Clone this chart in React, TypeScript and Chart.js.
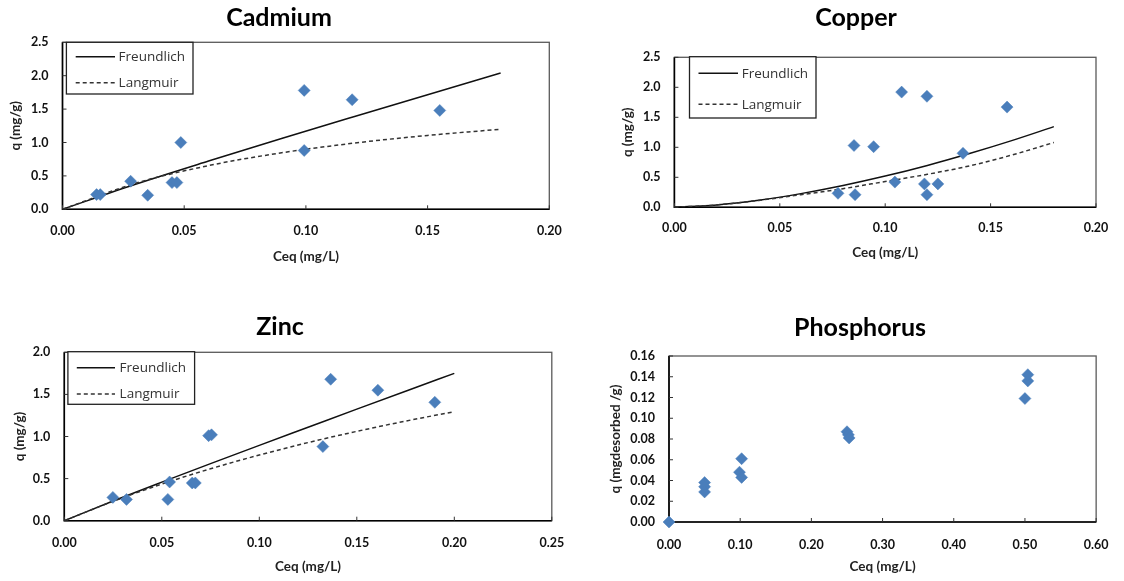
import React, { useEffect, useRef } from "react";
import { Chart, registerables } from "chart.js";

Chart.register(...registerables);

// ---- Measured adsorption data (Ceq in mg/L, q in mg/g) ----
const cadmiumCeq = [0.014, 0.0155, 0.028, 0.035, 0.045, 0.047, 0.0486, 0.0993, 0.0993, 0.119, 0.155];
const cadmiumQ = [0.22, 0.22, 0.42, 0.21, 0.40, 0.40, 1.0, 1.78, 0.88, 1.64, 1.48];
const cadmiumFitCeq = [0, 0.03, 0.06, 0.09, 0.12, 0.15, 0.18];
const cadmiumFreundlich = [0, 0.375, 0.722, 1.059, 1.389, 1.716, 2.04];
const cadmiumLangmuir = [0, 0.389, 0.654, 0.846, 0.992, 1.106, 1.198];

const copperCeq = [0.0776, 0.0857, 0.0852, 0.0945, 0.1046, 0.1078, 0.1186, 0.1198, 0.1198, 0.125, 0.1369, 0.1578];
const copperQ = [0.233, 0.21, 1.03, 1.01, 0.42, 1.92, 0.39, 1.85, 0.21, 0.39, 0.9, 1.67];
const copperFitCeq = [0, 0.02, 0.04, 0.06, 0.08, 0.1, 0.12, 0.14, 0.16, 0.18];
const copperFreundlich = [0, 0.039, 0.118, 0.228, 0.363, 0.52, 0.698, 0.896, 1.111, 1.344];
const copperLangmuir = [0, 0.04, 0.115, 0.21, 0.31, 0.43, 0.55, 0.69, 0.87, 1.08];

const zincCeq = [0.0249, 0.0319, 0.0531, 0.054, 0.0656, 0.0672, 0.074, 0.0755, 0.1326, 0.1366, 0.1608, 0.19];
const zincQ = [0.277, 0.253, 0.253, 0.46, 0.448, 0.448, 1.01, 1.02, 0.88, 1.68, 1.55, 1.406];
const zincFitCeq = [0, 0.025, 0.05, 0.075, 0.1, 0.125, 0.15, 0.175, 0.2];
const zincFreundlich = [0, 0.234, 0.458, 0.678, 0.895, 1.11, 1.325, 1.538, 1.75];
const zincLangmuir = [0, 0.23, 0.435, 0.617, 0.78, 0.928, 1.061, 1.183, 1.295];

const phosphorusCeq = [0, 0.05, 0.05, 0.05, 0.099, 0.102, 0.102, 0.25, 0.252, 0.253, 0.5, 0.504, 0.504];
const phosphorusQ = [0, 0.038, 0.034, 0.029, 0.048, 0.061, 0.043, 0.087, 0.084, 0.081, 0.119, 0.136, 0.142];

// ---- Axis ticks ----
const cadmiumXTicks = [0, 0.05, 0.1, 0.15, 0.2];
const cadmiumYTicks = [0, 0.5, 1.0, 1.5, 2.0, 2.5];
const copperXTicks = [0, 0.05, 0.1, 0.15, 0.2];
const copperYTicks = [0, 0.5, 1.0, 1.5, 2.0, 2.5];
const zincXTicks = [0, 0.05, 0.1, 0.15, 0.2, 0.25];
const zincYTicks = [0, 0.5, 1.0, 1.5, 2.0];
const phosphorusXTicks = [0, 0.1, 0.2, 0.3, 0.4, 0.5, 0.6];
const phosphorusYTicks = [0, 0.02, 0.04, 0.06, 0.08, 0.1, 0.12, 0.14, 0.16];

const seriesNames = ["Freundlich", "Langmuir"];

// ---- Page / styling ----
const PAGE_W = 1124;
const PAGE_H = 581;
const MARKER_BLUE = "#4a7ebb";
const FONT_FAMILY = "Lato, 'Open Sans', sans-serif";
const TICK_FONT = { family: FONT_FAMILY, size: 12.5, weight: "bold" as const };
const AXIS_TITLE_FONT = { family: FONT_FAMILY, size: 13.5, weight: "bold" as const, lineHeight: 1.2 };
const AXIS_TITLE_HALF = (13.5 * 1.2) / 2;

type Box = { left: number; top: number; right: number; bottom: number };
type LegendLayout = Box & { rows: number[]; lineX0: number; lineX1: number; textX: number };

type Panel = {
  title: string;
  titleX: number;
  titleY: number;
  area: Box;
  yTitle: string;
  yTitleX: number;
  xTitleY: number;
  xTickPad: number;
  xTicks: number[];
  yTicks: number[];
  xDigits: number;
  yDigits: number;
  ceq: number[];
  q: number[];
  fitCeq?: number[];
  freundlich?: number[];
  langmuir?: number[];
  legend?: LegendLayout;
};

const panels: Panel[] = [
  {
    title: "Cadmium",
    titleX: 279,
    titleY: 18,
    area: { left: 62.5, top: 42.3, right: 549.3, bottom: 209.3 },
    yTitle: "q (mg/g)",
    yTitleX: 16,
    xTitleY: 257,
    xTickPad: 14,
    xTicks: cadmiumXTicks,
    yTicks: cadmiumYTicks,
    xDigits: 2,
    yDigits: 1,
    ceq: cadmiumCeq,
    q: cadmiumQ,
    fitCeq: cadmiumFitCeq,
    freundlich: cadmiumFreundlich,
    langmuir: cadmiumLangmuir,
    legend: { left: 66.4, top: 42.3, right: 193, bottom: 94, rows: [56.7, 82.7], lineX0: 75.7, lineX1: 115, textX: 118.6 },
  },
  {
    title: "Copper",
    titleX: 856,
    titleY: 18,
    area: { left: 674.4, top: 57.3, right: 1096, bottom: 207.3 },
    yTitle: "q (mg/g)",
    yTitleX: 628,
    xTitleY: 253,
    xTickPad: 13.5,
    xTicks: copperXTicks,
    yTicks: copperYTicks,
    xDigits: 2,
    yDigits: 1,
    ceq: copperCeq,
    q: copperQ,
    fitCeq: copperFitCeq,
    freundlich: copperFreundlich,
    langmuir: copperLangmuir,
    legend: { left: 689.5, top: 56.7, right: 816, bottom: 118, rows: [73.3, 104.3], lineX0: 698.5, lineX1: 738, textX: 741.7 },
  },
  {
    title: "Zinc",
    titleX: 280,
    titleY: 327,
    area: { left: 64.3, top: 352.3, right: 551.8, bottom: 520.7 },
    yTitle: "q (mg/g)",
    yTitleX: 20,
    xTitleY: 566.7,
    xTickPad: 15,
    xTicks: zincXTicks,
    yTicks: zincYTicks,
    xDigits: 2,
    yDigits: 1,
    ceq: zincCeq,
    q: zincQ,
    fitCeq: zincFitCeq,
    freundlich: zincFreundlich,
    langmuir: zincLangmuir,
    legend: { left: 67.9, top: 351.7, right: 194.6, bottom: 404.3, rows: [367.7, 394], lineX0: 76.8, lineX1: 115, textX: 119.6 },
  },
  {
    title: "Phosphorus",
    titleX: 860,
    titleY: 328,
    area: { left: 669, top: 356, right: 1101, bottom: 522 },
    yTitle: "q (mgdesorbed /g)",
    yTitleX: 616,
    xTitleY: 566.7,
    xTickPad: 15.5,
    xTicks: phosphorusXTicks,
    yTicks: phosphorusYTicks,
    xDigits: 2,
    yDigits: 2,
    ceq: phosphorusCeq,
    q: phosphorusQ,
  },
];

function toPoints(xs: number[], ys: number[]) {
  return xs.map((x, i) => ({ x, y: ys[i] }));
}

function buildChart(canvas: HTMLCanvasElement, p: Panel) {
  const padLeft = p.yTitleX - AXIS_TITLE_HALF;
  const yAxisWidth = p.area.left - padLeft;
  const xScaleBottom = p.xTitleY + AXIS_TITLE_HALF;
  const xAxisHeight = xScaleBottom - p.area.bottom;

  const datasets: any[] = [
    {
      label: "measured",
      data: toPoints(p.ceq, p.q),
      showLine: false,
      clip: false,
      pointStyle: "rectRot",
      pointRadius: 6,
      pointBackgroundColor: MARKER_BLUE,
      pointBorderColor: MARKER_BLUE,
      pointBorderWidth: 0.5,
      order: 0,
    },
  ];
  if (p.fitCeq && p.freundlich && p.langmuir) {
    datasets.push(
      {
        label: seriesNames[0],
        data: toPoints(p.fitCeq, p.freundlich),
        showLine: true,
        pointRadius: 0,
        borderColor: "#111",
        borderWidth: 1.5,
        cubicInterpolationMode: "monotone",
        order: 2,
      },
      {
        label: seriesNames[1],
        data: toPoints(p.fitCeq, p.langmuir),
        showLine: true,
        pointRadius: 0,
        borderColor: "#333",
        borderWidth: 1.5,
        borderDash: [4, 3],
        cubicInterpolationMode: "monotone",
        order: 1,
      }
    );
  }

  // Plot frame, axis lines and inward tick marks
  const framePlugin = {
    id: "frame",
    beforeDatasetsDraw(chart: any) {
      const { ctx, chartArea: a, scales } = chart;
      ctx.save();
      ctx.strokeStyle = "#5a5a5a";
      ctx.lineWidth = 1.3;
      ctx.strokeRect(a.left, a.top, a.right - a.left, a.bottom - a.top);
      ctx.strokeStyle = "#000";
      ctx.lineWidth = 1.6;
      ctx.beginPath();
      ctx.moveTo(a.left, a.top);
      ctx.lineTo(a.left, a.bottom);
      ctx.lineTo(a.right, a.bottom);
      ctx.stroke();
      ctx.lineWidth = 1;
      ctx.strokeStyle = "#333";
      ctx.beginPath();
      for (const t of scales.x.ticks) {
        const px = scales.x.getPixelForValue(t.value);
        ctx.moveTo(px, a.bottom);
        ctx.lineTo(px, a.bottom - 4);
      }
      for (const t of scales.y.ticks) {
        const py = scales.y.getPixelForValue(t.value);
        ctx.moveTo(a.left, py);
        ctx.lineTo(a.left + 4, py);
      }
      ctx.stroke();
      ctx.restore();
    },
  };

  // Boxed legend in the upper-left corner of the plot
  const legendPlugin = {
    id: "boxLegend",
    afterDatasetsDraw(chart: any) {
      const lg = p.legend;
      if (!lg) return;
      const { ctx } = chart;
      ctx.save();
      ctx.fillStyle = "#fff";
      ctx.fillRect(lg.left, lg.top, lg.right - lg.left, lg.bottom - lg.top);
      ctx.strokeStyle = "#222";
      ctx.lineWidth = 1.3;
      ctx.strokeRect(lg.left, lg.top, lg.right - lg.left, lg.bottom - lg.top);
      ctx.font = "13.5px 'Open Sans', Lato, sans-serif";
      ctx.textBaseline = "middle";
      ctx.textAlign = "left";
      seriesNames.forEach((name, i) => {
        const y = lg.rows[i];
        ctx.strokeStyle = i === 0 ? "#111" : "#333";
        ctx.lineWidth = 1.5;
        ctx.setLineDash(i === 0 ? [] : [4, 3]);
        ctx.beginPath();
        ctx.moveTo(lg.lineX0, y);
        ctx.lineTo(lg.lineX1, y);
        ctx.stroke();
        ctx.setLineDash([]);
        ctx.fillStyle = "#333";
        ctx.fillText(name, lg.textX, y + 0.5);
      });
      ctx.restore();
    },
  };

  // Panel heading
  const headingPlugin = {
    id: "heading",
    afterDraw(chart: any) {
      const { ctx } = chart;
      ctx.save();
      ctx.font = `bold 25px ${FONT_FAMILY}`;
      ctx.fillStyle = "#000";
      ctx.textAlign = "center";
      ctx.textBaseline = "middle";
      ctx.fillText(p.title, p.titleX, p.titleY);
      ctx.restore();
    },
  };

  return new Chart(canvas, {
    type: "scatter",
    data: { datasets },
    plugins: [framePlugin, legendPlugin, headingPlugin],
    options: {
      responsive: false,
      animation: false,
      events: [],
      layout: {
        padding: {
          left: padLeft,
          top: p.area.top,
          right: PAGE_W - p.area.right,
          bottom: PAGE_H - xScaleBottom,
        },
      },
      plugins: {
        legend: { display: false },
        title: { display: false },
        tooltip: { enabled: false },
      },
      scales: {
        x: {
          type: "linear",
          min: p.xTicks[0],
          max: p.xTicks[p.xTicks.length - 1],
          grid: { display: false, drawTicks: false, tickLength: 0 },
          border: { display: false },
          afterBuildTicks: (scale: any) => {
            scale.ticks = p.xTicks.map((v) => ({ value: v }));
          },
          afterFit: (scale: any) => {
            scale.height = xAxisHeight;
          },
          ticks: {
            padding: p.xTickPad,
            maxRotation: 0,
            autoSkip: false,
            color: "#111",
            font: TICK_FONT,
            callback: (v: any) => Number(v).toFixed(p.xDigits),
          },
          title: {
            display: true,
            text: "Ceq (mg/L)",
            color: "#222",
            font: AXIS_TITLE_FONT,
            padding: 0,
          },
        },
        y: {
          type: "linear",
          min: p.yTicks[0],
          max: p.yTicks[p.yTicks.length - 1],
          grid: { display: false, drawTicks: false, tickLength: 0 },
          border: { display: false },
          afterBuildTicks: (scale: any) => {
            scale.ticks = p.yTicks.map((v) => ({ value: v }));
          },
          afterFit: (scale: any) => {
            scale.width = yAxisWidth;
          },
          ticks: {
            padding: 14,
            autoSkip: false,
            color: "#111",
            font: TICK_FONT,
            callback: (v: any) => Number(v).toFixed(p.yDigits),
          },
          title: {
            display: true,
            text: p.yTitle,
            color: "#222",
            font: AXIS_TITLE_FONT,
            padding: 0,
          },
        },
      },
    } as any,
  });
}

function PanelCanvas({ panel }: { panel: Panel }) {
  const ref = useRef<HTMLCanvasElement | null>(null);
  useEffect(() => {
    if (!ref.current) return;
    const chart = buildChart(ref.current, panel);
    return () => chart.destroy();
  }, [panel]);
  return (
    <canvas
      ref={ref}
      width={PAGE_W}
      height={PAGE_H}
      style={{ position: "absolute", left: 0, top: 0, width: PAGE_W, height: PAGE_H }}
    />
  );
}

export default function App() {
  return (
    <div
      style={{
        position: "fixed",
        left: 0,
        top: 0,
        width: PAGE_W,
        height: PAGE_H,
        background: "#fff",
        overflow: "hidden",
      }}
    >
      {panels.map((p) => (
        <PanelCanvas key={p.title} panel={p} />
      ))}
    </div>
  );
}
